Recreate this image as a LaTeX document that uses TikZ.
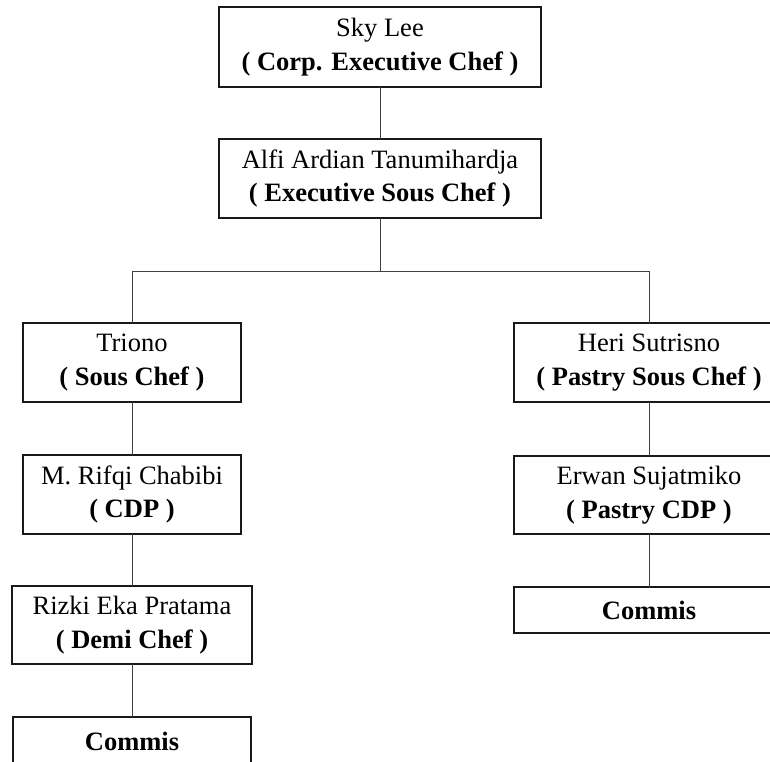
\documentclass[tikz,border=0pt]{standalone}
\usepackage{fontspec}
\setmainfont{Liberation Serif}
\begin{document}
\begin{tikzpicture}[x=1pt,y=-1pt,
  box/.style={draw=black!90,line width=1.4pt,rectangle,align=center,inner sep=0pt,outer sep=0pt,
    font=\fontsize{26.5}{33.5}\selectfont},
  link/.style={draw=black!75,line width=0.9pt}]
\useasboundingbox (0,0) rectangle (770,761);
\clip (0,0) rectangle (770,761);
\node[box,minimum width=322,minimum height=80] (b1) at (380,47) {Sky Lee\\\textbf{( Corp. Executive Chef )}};
\node[box,minimum width=322,minimum height=79] (b2) at (380,178.5) {Alfi Ardian Tanumihardja\\\textbf{( Executive Sous Chef )}};
\node[box,minimum width=218,minimum height=79] (tri) at (132,362.5) {Triono\\\textbf{( Sous Chef )}};
\node[box,minimum width=270,minimum height=79] (heri) at (649,362.5) {Heri Sutrisno\\\textbf{( Pastry Sous Chef )}};
\node[box,minimum width=218,minimum height=79] (rif) at (132,494.5) {M. Rifqi Chabibi\\\textbf{( CDP )}};
\node[box,minimum width=270,minimum height=78] (erw) at (649,495) {Erwan Sujatmiko\\\textbf{( Pastry CDP )}};
\node[box,minimum width=240,minimum height=78] (riz) at (132,625) {Rizki Eka Pratama\\\textbf{( Demi Chef )}};
\node[box,minimum width=238,minimum height=48] (coml) at (132,741) {\textbf{Commis}};
\node[box,minimum width=270,minimum height=46] (comr) at (649,610) {\textbf{Commis}};
\coordinate (hl) at (132,271);
\coordinate (hr) at (649,271);
\coordinate (hm) at (380,271);
\draw[link] (b1.south) -- (b2.north);
\draw[link] (b2.south) -- (hm);
\draw[link] (tri.north) -- (hl) -- (hr) -- (heri.north);
\draw[link] (tri.south) -- (rif.north);
\draw[link] (rif.south) -- (riz.north);
\draw[link] (riz.south) -- (coml.north);
\draw[link] (heri.south) -- (erw.north);
\draw[link] (erw.south) -- (comr.north);
\end{tikzpicture}
\end{document}
